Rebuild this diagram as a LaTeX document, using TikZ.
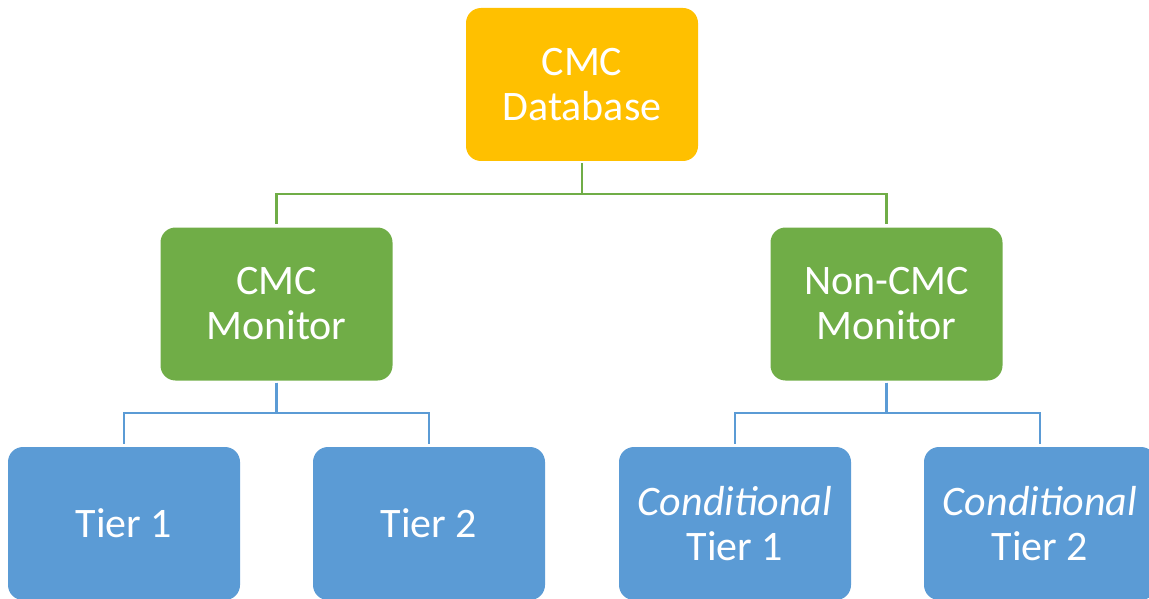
\documentclass[tikz,border=0pt]{standalone}
\usepackage{fontspec}
\setmainfont{Carlito}
\definecolor{cmcorange}{HTML}{FFC000}
\definecolor{cmcgreen}{HTML}{70AD47}
\definecolor{cmcblue}{HTML}{5B9BD5}
\tikzset{
  box/.style={rounded corners=15pt, minimum width=232pt, minimum height=153pt,
    inner sep=0pt, align=center, text=white, font=\fontsize{42}{45}\selectfont},
  orangebox/.style={box, fill=cmcorange},
  greenbox/.style={box, fill=cmcgreen},
  bluebox/.style={box, fill=cmcblue},
  link/.style={line width=2.4pt, shorten <=2pt, shorten >=3pt},
}
\begin{document}
\begin{tikzpicture}[x=1pt,y=-1pt]
\useasboundingbox (0,0) rectangle (1149,599);
\clip (0,0) rectangle (1149,599);
\node[orangebox] (db) at (582,84.5) {CMC\\Database};
\node[greenbox] (m1) at (276.5,304) {CMC\\Monitor};
\node[greenbox] (m2) at (886.5,304) {Non-CMC\\Monitor};
\node[bluebox] (t1) at (124,523.5) {Tier 1};
\node[bluebox] (t2) at (429,523.5) {Tier 2};
\node[bluebox] (t3) at (735,523.5) {\textit{Conditional}\\Tier 1};
\node[bluebox] (t4) at (1040,523.5) {\textit{Conditional}\\Tier 2};
\draw[link, draw=cmcgreen] (db.south) -- ++(0,33) -| (m1.north);
\draw[link, draw=cmcgreen] (db.south) -- ++(0,33) -| (m2.north);
\draw[link, draw=cmcblue] (m1.south) -- ++(0,32) -| (t1.north);
\draw[link, draw=cmcblue] (m1.south) -- ++(0,32) -| (t2.north);
\draw[link, draw=cmcblue] (m2.south) -- ++(0,32) -| (t3.north);
\draw[link, draw=cmcblue] (m2.south) -- ++(0,32) -| (t4.north);
\end{tikzpicture}
\end{document}
